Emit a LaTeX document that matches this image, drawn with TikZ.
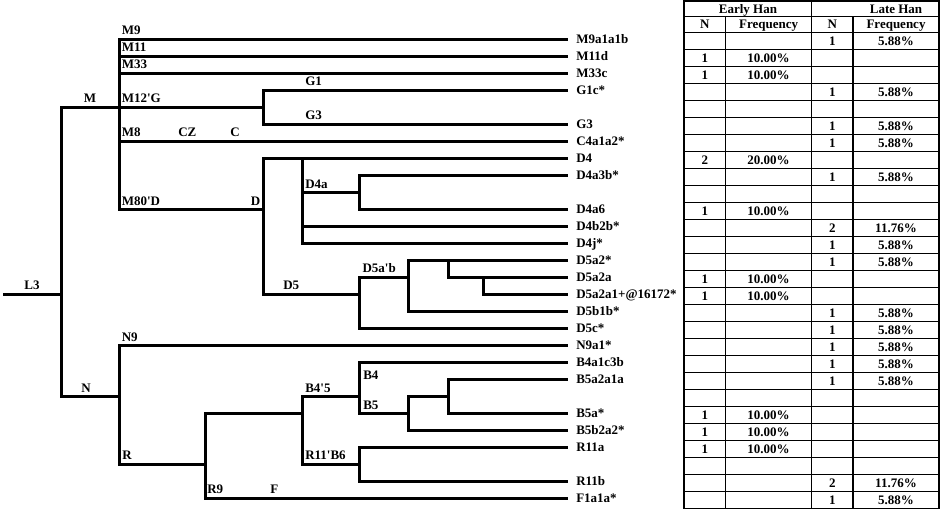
\documentclass[tikz,border=0pt]{standalone}
\usepackage{fontspec}
\setmainfont{Liberation Serif}
\begin{document}
\begin{tikzpicture}[x=0.75pt,y=-0.75pt,
  branch/.style={line width=2.25pt},
  lbl/.style={font=\fontsize{9.75pt}{11pt}\selectfont\bfseries,inner sep=0pt},
  leaf/.style={lbl,anchor=west,inner xsep=6pt,text height=6.45pt,text depth=0pt},
  cell/.style={lbl,text height=6.45pt,text depth=0pt},
  grid/.style={line width=0.9pt}]
  \useasboundingbox (0,0) rectangle (941,511);

  % internal nodes of the tree
  \coordinate (start) at (3,294.5);
  \coordinate (L3) at (61,294.5);
  \coordinate (M) at (119,107.5);
  \coordinate (G) at (263,107.5);
  \coordinate (D) at (263,209.5);
  \coordinate (D4) at (302,158.5);
  \coordinate (D4a) at (359,192.5);
  \coordinate (D5) at (359,294.5);
  \coordinate (D5ab) at (408,277.5);
  \coordinate (D5a2) at (448,260.5);
  \coordinate (D5a2a) at (483,277.5);
  \coordinate (N) at (119,396.5);
  \coordinate (R) at (205,464.5);
  \coordinate (B45) at (302,413.5);
  \coordinate (B4) at (359,396.5);
  \coordinate (B5) at (408,413.5);
  \coordinate (B5a) at (448,396.5);
  \coordinate (R11B6) at (359,464.5);

  % leaves
  \foreach \i/\t in {0/M9a1a1b, 1/M11d, 2/M33c, 3/G1c*, 5/G3, 6/C4a1a2*, 7/D4,
      8/D4a3b*, 10/D4a6, 11/D4b2b*, 12/D4j*, 13/D5a2*, 14/D5a2a,
      15/D5a2a1+@16172*, 16/D5b1b*, 17/D5c*, 18/N9a1*, 19/B4a1c3b, 20/B5a2a1a,
      22/B5a*, 23/B5b2a2*, 24/R11a, 26/R11b, 27/F1a1a*}
    \node[leaf] (l\i) at (568,{39.5+17*\i}) {\t};

  % branches
  \draw[branch] (start) -- (L3);
  \foreach \p/\c in {L3/M, L3/N, M/l0.west, M/l1.west, M/l2.west, M/G, M/l6.west, M/D,
      G/l3.west, G/l5.west, D/D4, D/D5, D4/l7.west, D4/D4a, D4/l11.west, D4/l12.west,
      D4a/l8.west, D4a/l10.west, D5/D5ab, D5/l17.west, D5ab/D5a2, D5ab/l16.west,
      D5a2/l13.west, D5a2/D5a2a, D5a2a/l14.west, D5a2a/l15.west,
      N/l18.west, N/R, R/B45, R/l27.west, B45/B4, B45/R11B6, B4/l19.west, B4/B5,
      B5/B5a, B5/l23.west, B5a/l20.west, B5a/l22.west, R11B6/l24.west, R11B6/l26.west}
    \draw[branch] (\p) |- (\c);

  % clade labels
  \foreach \t/\x/\y [count=\k] in {M9/121.5/34.5, M11/121.5/51.5, M33/121.5/68.5,
      M12\textquotesingle G/121.5/102, G1/305/85.5, G3/305/119.5, M8/121.5/136.5,
      CZ/178/136.5, C/230/136.5, D4a/305/188, M80\textquotesingle D/121.5/205,
      D5/283/289.5, D5a\textquotesingle b/362.3/272.5, N9/121.5/341,
      B4\textquotesingle 5/305/392, B4/363/379, B5/363/409, R/122/459.5,
      R11\textquotesingle B6/305/459.5, R9/207/493, F/270/493}
    \node[lbl,anchor=base west] (c\k) at (\x,\y) {\t};
  \node[lbl,anchor=base] (cM) at (90,102) {M};
  \node[lbl,anchor=base] (cN) at (86,392) {N};
  \node[lbl,anchor=base] (cL3) at (32,289.5) {L3};
  \node[lbl,anchor=base east] (cD) at (260.5,205) {D};

  % table grid
  \draw[grid] (684,1) rectangle (939,508.5);
  \draw[grid] (684,16.75) -- (939,16.75);
  \foreach \r in {0,...,27}
    \draw[grid] (684,{32.5+17*\r}) -- (939,{32.5+17*\r});
  \draw[grid] (811.7,1) -- (811.7,508.5);
  \draw[grid] (725.5,16.75) -- (725.5,508.5) (853,16.75) -- (853,508.5);

  % table heads
  \node[cell] (early) at (748,9) {Early Han};
  \node[cell] (late) at (896,9) {Late Han};
  \node[cell] (eN) at (704.75,24.5) {N};
  \node[cell] (eF) at (768.6,24.5) {Frequency};
  \node[cell] (lN) at (832.35,24.5) {N};
  \node[cell] (lF) at (896,24.5) {Frequency};

  % table data
  \foreach \i/\n/\f in {1/1/10.00, 2/1/10.00, 7/2/20.00, 10/1/10.00, 14/1/10.00,
      15/1/10.00, 22/1/10.00, 23/1/10.00, 24/1/10.00} {
    \node[cell] (en\i) at (704.75,{41+17*\i}) {\n};
    \node[cell] (ef\i) at (768.6,{41+17*\i}) {\f\%};
  }
  \foreach \i/\n/\f in {0/1/5.88, 3/1/5.88, 5/1/5.88, 6/1/5.88, 8/1/5.88, 11/2/11.76,
      12/1/5.88, 13/1/5.88, 16/1/5.88, 17/1/5.88, 18/1/5.88, 19/1/5.88, 20/1/5.88,
      26/2/11.76, 27/1/5.88} {
    \node[cell] (ln\i) at (832.35,{41+17*\i}) {\n};
    \node[cell] (lf\i) at (896,{41+17*\i}) {\f\%};
  }
\end{tikzpicture}
\end{document}
